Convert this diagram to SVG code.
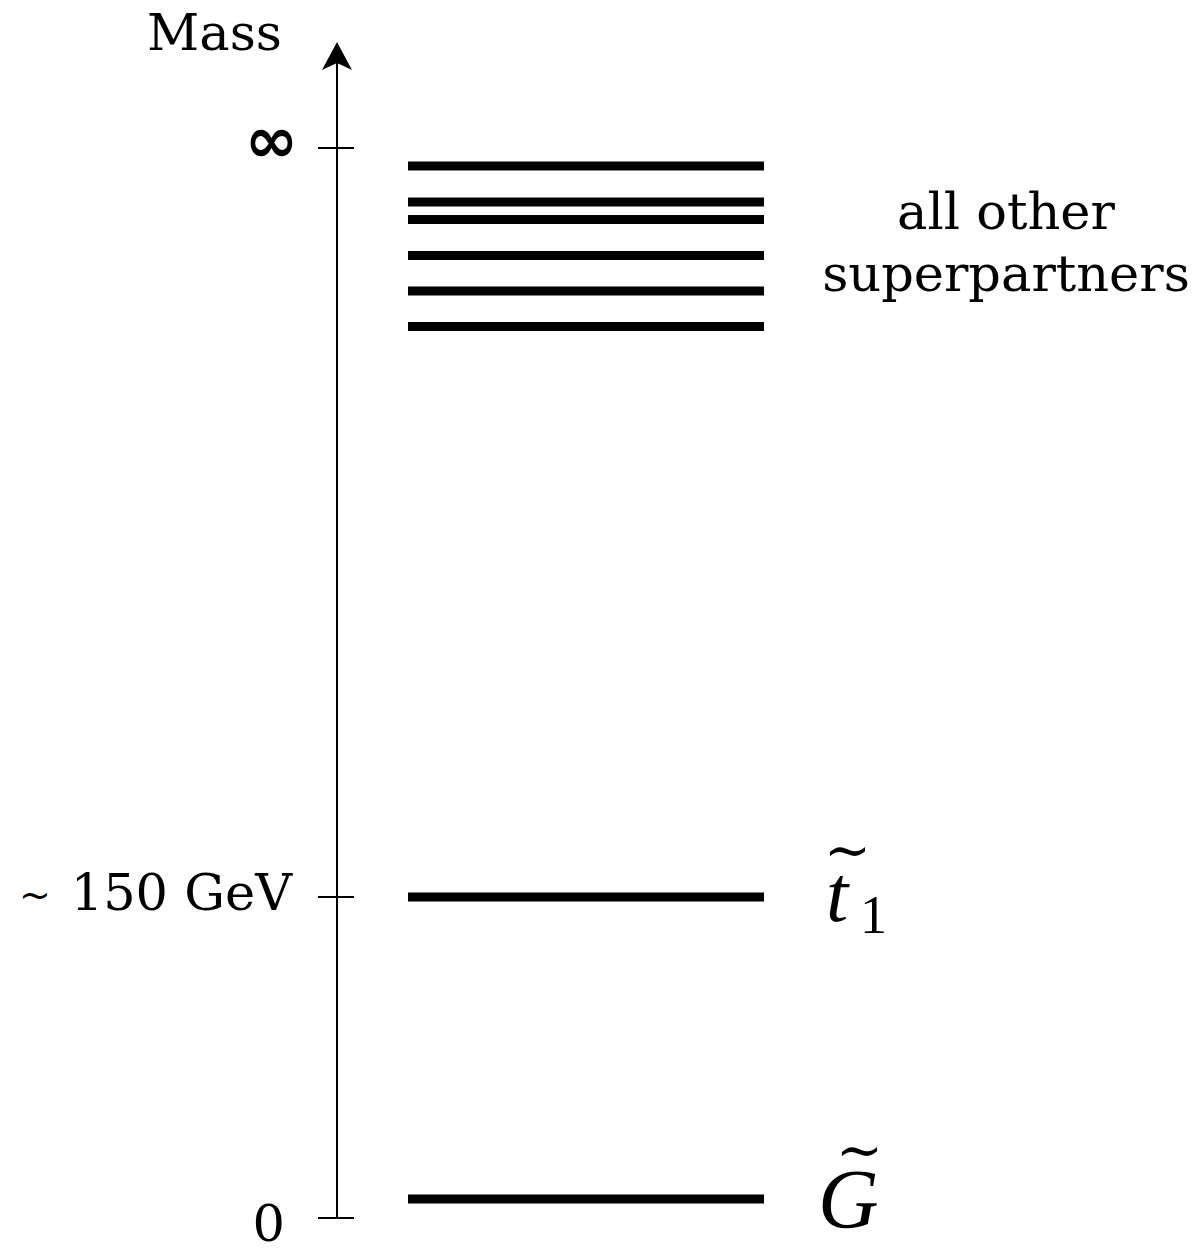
<svg xmlns="http://www.w3.org/2000/svg" width="1198" height="1248" viewBox="0 0 1198 1248">
<style>
.lbl{font-family:"DejaVu Serif",serif;font-size:51px;fill:#000}
.math{font-family:"Liberation Serif","Times New Roman",serif;fill:#000}
.acc{font-family:"DejaVu Serif",serif;font-size:56px;fill:#000}
.bar{stroke:#000;stroke-width:9;fill:none}
.ax{stroke:#000;stroke-width:2;fill:none}
</style>
<rect width="1198" height="1248" fill="#fff"/>
<g id="axis">
<line class="ax" x1="337" y1="1218" x2="337" y2="60"/>
<path d="M337,42 L352,70 L337,63 L322,70 Z" fill="#000"/>
<line class="ax" x1="318" y1="148" x2="354" y2="148"/>
<line class="ax" x1="318" y1="897" x2="354" y2="897"/>
<line class="ax" x1="318" y1="1218" x2="354" y2="1218"/>
<text class="lbl" x="147" y="50">Mass</text>
<text x="298" y="162" font-family="DejaVu Sans,sans-serif" font-size="64" font-weight="bold" text-anchor="end">∞</text>
<text x="35" y="908" font-family="DejaVu Serif,serif" font-size="38" text-anchor="middle">~</text>
<text class="lbl" x="292" y="910" text-anchor="end">150 GeV</text>
<text class="lbl" x="285" y="1241" text-anchor="end">0</text>
</g>
<g id="superpartners">
<line class="bar" x1="408" y1="166" x2="764" y2="166"/>
<line class="bar" x1="408" y1="202" x2="764" y2="202"/>
<line class="bar" x1="408" y1="219.5" x2="764" y2="219.5"/>
<line class="bar" x1="408" y1="255.5" x2="764" y2="255.5"/>
<line class="bar" x1="408" y1="291" x2="764" y2="291"/>
<line class="bar" x1="408" y1="326.5" x2="764" y2="326.5"/>
<text class="lbl" x="1006" y="229" text-anchor="middle">all other</text>
<text class="lbl" x="1006" y="291" text-anchor="middle">superpartners</text>
</g>
<g id="stop">
<line class="bar" x1="408" y1="897" x2="764" y2="897"/>
<text class="math" x="826" y="921" font-size="80" font-style="italic">t</text>
<text class="acc" x="847.5" y="869" text-anchor="middle">~</text>
<text class="math" x="860" y="933" font-size="54">1</text>
</g>
<g id="gravitino">
<line class="bar" x1="408" y1="1199" x2="764" y2="1199"/>
<text class="math" x="818" y="1228" font-size="84" font-style="italic">G</text>
<text class="acc" x="859.5" y="1169" text-anchor="middle">~</text>
</g>
</svg>
